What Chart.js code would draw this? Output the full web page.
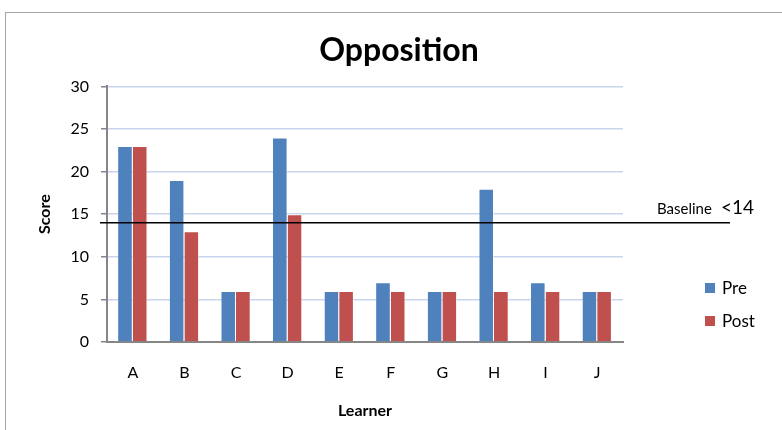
<!DOCTYPE html>
<html>
<head>
<meta charset="utf-8">
<script src="https://cdn.jsdelivr.net/npm/chart.js@4.4.1/dist/chart.umd.min.js"></script>
<style>
  html, body { margin: 0; padding: 0; background: #fff; overflow: hidden; }
  #wrap { position: relative; width: 782px; height: 430px; }
  #frame { position: absolute; left: 5px; top: 12px; width: 900px; height: 600px; border: 1.5px solid #a6a6a6; }
  #chart { position: absolute; left: 0; top: 0; }
</style>
</head>
<body>
<div id="wrap">
  <div id="frame"></div>
  <canvas id="chart" width="782" height="430"></canvas>
</div>
<script>
const learners = ['A', 'B', 'C', 'D', 'E', 'F', 'G', 'H', 'I', 'J'];
const preScores = [23, 19, 6, 24, 6, 7, 6, 18, 7, 6];
const postScores = [23, 13, 6, 15, 6, 6, 6, 6, 6, 6];
const baseline = 14;

const blue = '#4f81bd';
const red = '#c0504d';
const axisGray = '#868686';
const font = 'Lato, "Open Sans", sans-serif';

// horizontal baseline + its label
const baselinePlugin = {
  id: 'baseline',
  afterDatasetsDraw(chart) {
    const { ctx, chartArea } = chart;
    const y = chart.scales.y.getPixelForValue(baseline);
    ctx.save();
    ctx.strokeStyle = '#000';
    ctx.lineWidth = 1.5;
    ctx.beginPath();
    ctx.moveTo(chartArea.left - 7, y);
    ctx.lineTo(chartArea.right + 107, y);
    ctx.stroke();
    ctx.fillStyle = '#000';
    ctx.textBaseline = 'alphabetic';
    ctx.font = '15px ' + font;
    ctx.fillText('Baseline', chartArea.right + 34, y - 9);
    ctx.font = '19px ' + font;
    ctx.fillText('<' + baseline, chartArea.right + 98, y - 9);
    ctx.restore();
  }
};

// legend to the right, lower half
const sideLegend = {
  id: 'sideLegend',
  afterDraw(chart) {
    const { ctx, chartArea } = chart;
    ctx.save();
    ctx.font = '17px ' + font;
    ctx.textBaseline = 'middle';
    chart.data.datasets.forEach((ds, i) => {
      const x = chartArea.right + 82;
      const y = chartArea.bottom - 59 + i * 33;
      ctx.fillStyle = ds.backgroundColor;
      ctx.fillRect(x, y, 10, 10);
      ctx.fillStyle = '#000';
      ctx.fillText(ds.label, x + 17, y + 6);
    });
    ctx.restore();
  }
};

new Chart(document.getElementById('chart'), {
  type: 'bar',
  data: {
    labels: learners,
    datasets: [
      { label: 'Pre', data: preScores, backgroundColor: blue },
      { label: 'Post', data: postScores, backgroundColor: red }
    ]
  },
  options: {
    responsive: false,
    animation: false,
    devicePixelRatio: 1,
    categoryPercentage: 0.57,
    barPercentage: 1.0,
    datasets: {
      bar: {
        borderColor: 'rgba(255,255,255,0.55)',
        borderWidth: { top: 1, right: 1, left: 0, bottom: 0 },
        borderSkipped: 'start'
      }
    },
    layout: { padding: { left: 16, right: 0, top: 0, bottom: 6 } },
    plugins: {
      legend: { display: false },
      tooltip: { enabled: false },
      title: {
        display: true,
        text: 'Opposition',
        color: '#000',
        font: { family: font, size: 32, weight: 'bold' },
        padding: { top: 31, bottom: 17 }
      }
    },
    scales: {
      x: {
        grid: { display: false },
        border: { display: true, color: axisGray, width: 2 },
        ticks: { color: '#000', font: { family: font, size: 16 }, padding: 13 },
        title: {
          display: true,
          text: 'Learner',
          color: '#000',
          font: { family: font, size: 16, weight: 'bold' },
          padding: { top: 0, bottom: 4 }
        },
        afterFit(s) { s.height = 82; }
      },
      y: {
        min: 0,
        max: 30,
        ticks: { stepSize: 5, color: '#000', font: { family: font, size: 16 }, padding: 12 },
        grid: { color: '#c8d6ec', lineWidth: 1.5, tickLength: 6, tickColor: axisGray },
        border: { display: true, color: axisGray, width: 2 },
        title: {
          display: true,
          text: 'Score',
          color: '#000',
          font: { family: font, size: 16, weight: 'bold' },
          padding: { top: 19, bottom: 0 }
        },
        afterFit(s) { s.width = 91; }
      },
      // empty right-hand box that reserves the legend space
      side: {
        type: 'linear',
        position: 'right',
        grid: { display: false },
        border: { display: false },
        ticks: { display: false },
        afterFit(s) { s.width = 159; }
      }
    }
  },
  plugins: [baselinePlugin, sideLegend]
});
</script>
</body>
</html>
